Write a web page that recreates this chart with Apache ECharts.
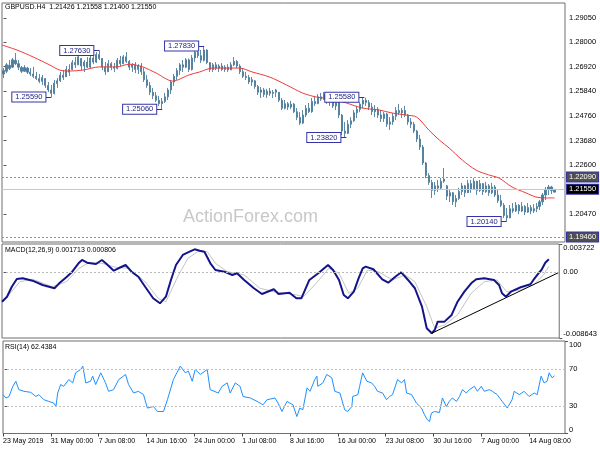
<!DOCTYPE html>
<html><head><meta charset="utf-8">
<script src="https://cdn.jsdelivr.net/npm/echarts@6/dist/echarts.min.js"></script>
<style>html,body{margin:0;padding:0;background:#fff}#c{width:600px;height:450px}</style>
</head><body><div id="c"></div>
<script>
// ---------------- data ----------------
const symbolName = 'GBPUSD.H4';
const lastOHLC = [1.21426, 1.21558, 1.21400, 1.21550];
// candles: [open, close, low, high]
const candles = [
[1.2660,1.2675,1.2642,1.2686],[1.2672,1.2700,1.2664,1.2708],[1.2698,1.2684,1.2677,1.2721],[1.2690,1.2722,1.2686,1.2730],
[1.2720,1.2705,1.2699,1.2752],[1.2705,1.2690,1.2677,1.2721],[1.2688,1.2672,1.2664,1.2695],[1.2672,1.2688,1.2669,1.2699],
[1.2686,1.2668,1.2660,1.2691],[1.2668,1.2660,1.2651,1.2686],[1.2660,1.2650,1.2642,1.2691],[1.2650,1.2640,1.2634,1.2669],
[1.2640,1.2628,1.2620,1.2660],[1.2628,1.2645,1.2612,1.2656],[1.2640,1.2610,1.2599,1.2642],[1.2610,1.2590,1.2581,1.2625],
[1.2590,1.2575,1.2559,1.2612],[1.2575,1.2620,1.2570,1.2634],[1.2618,1.2630,1.2599,1.2642],[1.2630,1.2655,1.2625,1.2669],
[1.2655,1.2645,1.2634,1.2677],[1.2648,1.2680,1.2647,1.2695],[1.2680,1.2668,1.2651,1.2703],[1.2680,1.2710,1.2677,1.2721],
[1.2710,1.2700,1.2686,1.2734],[1.2700,1.2735,1.2699,1.2743],[1.2728,1.2695,1.2677,1.2730],[1.2695,1.2712,1.2669,1.2721],
[1.2712,1.2690,1.2686,1.2734],[1.2690,1.2730,1.2686,1.2743],[1.2730,1.2712,1.2703,1.2747],[1.2712,1.2745,1.2708,1.2756],
[1.2745,1.2728,1.2721,1.2763],[1.2728,1.2690,1.2677,1.2730],[1.2690,1.2670,1.2656,1.2712],[1.2670,1.2705,1.2669,1.2721],
[1.2705,1.2690,1.2677,1.2712],[1.2690,1.2685,1.2669,1.2708],[1.2685,1.2720,1.2680,1.2730],[1.2720,1.2705,1.2695,1.2739],
[1.2705,1.2735,1.2703,1.2743],[1.2735,1.2715,1.2708,1.2756],[1.2715,1.2690,1.2677,1.2721],[1.2690,1.2700,1.2669,1.2708],
[1.2700,1.2680,1.2664,1.2712],[1.2680,1.2695,1.2660,1.2703],[1.2695,1.2670,1.2656,1.2708],[1.2670,1.2635,1.2625,1.2686],
[1.2635,1.2610,1.2599,1.2656],[1.2610,1.2580,1.2568,1.2625],[1.2580,1.2565,1.2550,1.2599],[1.2565,1.2545,1.2537,1.2581],
[1.2545,1.2530,1.2520,1.2564],[1.2530,1.2540,1.2506,1.2555],[1.2540,1.2560,1.2533,1.2577],[1.2560,1.2590,1.2546,1.2599],
[1.2590,1.2625,1.2572,1.2634],[1.2625,1.2650,1.2608,1.2660],[1.2650,1.2675,1.2634,1.2686],[1.2675,1.2700,1.2656,1.2708],
[1.2700,1.2690,1.2669,1.2721],[1.2690,1.2722,1.2686,1.2730],[1.2722,1.2680,1.2669,1.2728],[1.2680,1.2730,1.2675,1.2743],
[1.2730,1.2755,1.2712,1.2765],[1.2755,1.2740,1.2730,1.2778],[1.2740,1.2720,1.2708,1.2765],[1.2720,1.2765,1.2715,1.2783],
[1.2765,1.2710,1.2703,1.2768],[1.2710,1.2680,1.2669,1.2712],[1.2680,1.2700,1.2669,1.2708],[1.2700,1.2685,1.2677,1.2712],
[1.2685,1.2695,1.2669,1.2703],[1.2695,1.2680,1.2673,1.2708],[1.2680,1.2690,1.2669,1.2699],[1.2690,1.2678,1.2669,1.2703],
[1.2678,1.2700,1.2677,1.2712],[1.2700,1.2715,1.2695,1.2734],[1.2715,1.2695,1.2686,1.2721],[1.2695,1.2670,1.2660,1.2703],
[1.2670,1.2650,1.2642,1.2686],[1.2650,1.2645,1.2634,1.2669],[1.2645,1.2625,1.2616,1.2656],[1.2625,1.2635,1.2608,1.2647],
[1.2630,1.2605,1.2595,1.2634],[1.2605,1.2580,1.2568,1.2612],[1.2580,1.2590,1.2555,1.2603],[1.2590,1.2570,1.2559,1.2599],
[1.2570,1.2585,1.2555,1.2595],[1.2585,1.2575,1.2564,1.2599],[1.2575,1.2580,1.2555,1.2590],[1.2580,1.2590,1.2559,1.2595],
[1.2580,1.2545,1.2537,1.2581],[1.2545,1.2510,1.2502,1.2555],[1.2510,1.2530,1.2505,1.2546],[1.2530,1.2515,1.2502,1.2537],
[1.2515,1.2528,1.2506,1.2542],[1.2528,1.2495,1.2489,1.2533],[1.2495,1.2470,1.2458,1.2511],[1.2470,1.2445,1.2437,1.2493],
[1.2445,1.2480,1.2440,1.2502],[1.2480,1.2510,1.2471,1.2524],[1.2510,1.2495,1.2489,1.2533],[1.2495,1.2540,1.2490,1.2555],
[1.2540,1.2530,1.2520,1.2564],[1.2530,1.2560,1.2528,1.2572],[1.2560,1.2550,1.2542,1.2577],[1.2550,1.2570,1.2546,1.2581],
[1.2570,1.2540,1.2529,1.2575],[1.2540,1.2550,1.2520,1.2559],[1.2550,1.2520,1.2511,1.2555],[1.2520,1.2535,1.2502,1.2546],
[1.2535,1.2480,1.2467,1.2540],[1.2480,1.2410,1.2393,1.2485],[1.2410,1.2400,1.2382,1.2450],[1.2400,1.2440,1.2397,1.2458],
[1.2440,1.2455,1.2423,1.2471],[1.2455,1.2490,1.2450,1.2502],[1.2490,1.2505,1.2467,1.2520],[1.2505,1.2528,1.2493,1.2537],
[1.2528,1.2545,1.2511,1.2558],[1.2545,1.2535,1.2520,1.2556],[1.2535,1.2515,1.2502,1.2546],[1.2515,1.2495,1.2480,1.2533],
[1.2495,1.2505,1.2471,1.2524],[1.2505,1.2480,1.2467,1.2515],[1.2480,1.2465,1.2450,1.2502],[1.2465,1.2485,1.2450,1.2493],
[1.2485,1.2440,1.2428,1.2490],[1.2440,1.2450,1.2415,1.2471],[1.2450,1.2475,1.2437,1.2489],[1.2475,1.2500,1.2458,1.2515],
[1.2500,1.2490,1.2480,1.2529],[1.2490,1.2500,1.2467,1.2511],[1.2500,1.2480,1.2471,1.2520],[1.2480,1.2450,1.2437,1.2485],
[1.2450,1.2440,1.2423,1.2467],[1.2440,1.2410,1.2401,1.2450],[1.2410,1.2375,1.2362,1.2415],[1.2375,1.2340,1.2327,1.2393],
[1.2340,1.2270,1.2261,1.2349],[1.2270,1.2215,1.2204,1.2274],[1.2215,1.2185,1.2174,1.2226],[1.2185,1.2150,1.2117,1.2196],
[1.2150,1.2170,1.2130,1.2187],[1.2170,1.2160,1.2143,1.2196],[1.2160,1.2190,1.2152,1.2204],[1.2190,1.2200,1.2183,1.2248],
[1.2170,1.2125,1.2108,1.2174],[1.2125,1.2140,1.2099,1.2152],[1.2140,1.2100,1.2086,1.2143],[1.2100,1.2115,1.2077,1.2130],
[1.2115,1.2145,1.2108,1.2161],[1.2145,1.2170,1.2130,1.2183],[1.2170,1.2140,1.2121,1.2174],[1.2140,1.2180,1.2138,1.2196],
[1.2180,1.2155,1.2139,1.2196],[1.2155,1.2190,1.2152,1.2204],[1.2190,1.2150,1.2130,1.2192],[1.2150,1.2180,1.2143,1.2196],
[1.2180,1.2145,1.2130,1.2182],[1.2145,1.2170,1.2139,1.2187],[1.2170,1.2140,1.2126,1.2178],[1.2140,1.2165,1.2134,1.2183],
[1.2165,1.2130,1.2121,1.2174],[1.2130,1.2105,1.2095,1.2152],[1.2105,1.2085,1.2077,1.2130],[1.2085,1.2040,1.2029,1.2095],
[1.2040,1.2030,1.2014,1.2073],[1.2030,1.2070,1.2028,1.2086],[1.2070,1.2060,1.2051,1.2095],[1.2060,1.2085,1.2055,1.2099],
[1.2085,1.2060,1.2046,1.2090],[1.2060,1.2080,1.2055,1.2099],[1.2080,1.2055,1.2042,1.2086],[1.2055,1.2075,1.2051,1.2095],
[1.2075,1.2060,1.2046,1.2086],[1.2060,1.2070,1.2051,1.2090],[1.2070,1.2080,1.2055,1.2095],[1.2080,1.2100,1.2064,1.2108],
[1.2100,1.2130,1.2086,1.2139],[1.2130,1.2155,1.2108,1.2165],[1.2155,1.2165,1.2130,1.2174],[1.2165,1.2150,1.2134,1.2170],
[1.21426,1.21550,1.21400,1.21558]
];
// moving average (red) [bar index, price]
const maLine = [[-0.5,1.2787],[4.5,1.2765],[10,1.2734],[15.5,1.2699],[18.8,1.2677],[22,1.2673],[26.5,1.2677],[32,1.2691],
[37.8,1.2691],[42,1.2703],[46.5,1.2691],[51,1.2664],[56.5,1.2629],[62,1.2656],[65.5,1.2669],[69.8,1.2686],[78.8,1.2686],
[83,1.2669],[88.8,1.2647],[94.5,1.2612],[99.8,1.2577],[104.5,1.2559],[109.8,1.2550],[114.5,1.2533],[119.8,1.2511],
[125.5,1.2502],[129.8,1.2489],[134.5,1.2480],[138,1.2471],[142,1.2415],[145.5,1.2371],[148.8,1.2336],[153.2,1.2283],
[157.8,1.2239],[162,1.2218],[165.5,1.2204],[169.8,1.2165],[174.5,1.2139],[177.8,1.2121],[181.2,1.2117],[184,1.2117]];
// horizontal levels
const levelPrices = [1.2209, 1.1946];
// swing labels
const swingPrices = [1.2559, 1.2763, 1.2506, 1.2783, 1.2558, 1.2382, 1.2014];
const swingBars = [16, 32, 53, 67, 120.5, 114.5, 168];
// price axis
const priceMin = 1.1924, priceMax = 1.2971;
const priceTicks = [1.2905, 1.2800, 1.2692, 1.2584, 1.2476, 1.2368, 1.2260, 1.2047];
// MACD
const macdParams = '12,26,9';
const macdMin = -0.008643, macdMax = 0.003722;
const macdMain = [[-0.5,-0.00387],[1.2,-0.00321],[2.8,-0.00190],[4.5,-0.00088],[6.5,-0.00079],[9.8,-0.00110],[13.2,-0.00167],
[17.2,-0.00210],[18.8,-0.00145],[21.2,-0.00066],[23.2,0.00008],[25.5,0.00126],[26.5,0.00162],[28.2,0.00126],[31.2,0.00109],
[33.2,0.00162],[34.8,0.00109],[37.2,0.00021],[38.8,0.00053],[41.2,0.00096],[43.2,0.00008],[45.5,-0.00058],[47.8,-0.00190],
[50.5,-0.00342],[52.8,-0.00408],[54.8,-0.00321],[56.5,-0.00101],[58.2,0.00096],[60.5,0.00228],[62.8,0.00271],[64.5,0.00302],
[66.2,0.00284],[67.8,0.00271],[69.8,0.00118],[71.5,0.00030],[74.5,0.00008],[77.2,-0.00035],[78.8,-0.00013],[81.2,-0.00101],
[84.5,-0.00210],[87.2,-0.00285],[91.2,-0.00223],[92.8,-0.00285],[96.5,-0.00268],[98.8,-0.00342],[100.5,-0.00342],
[103.2,-0.00101],[106.2,-0.00013],[109.5,0.00096],[111.2,0.00030],[113.2,-0.00101],[114.8,-0.00298],[116.2,-0.00342],
[118.2,-0.00255],[119.8,-0.00079],[121.2,0.00053],[122.2,0.00074],[124.8,0.00040],[127.8,-0.00092],[129.8,-0.00137],
[132.2,-0.00058],[134.2,0.00000],[136.5,-0.00101],[138.8,-0.00210],[141.2,-0.00452],[142.8,-0.00736],[144.5,-0.00802],
[145.5,-0.00759],[146.5,-0.00649],[148.8,-0.00649],[151.2,-0.00561],[153.2,-0.00387],[155.5,-0.00255],[157.8,-0.00145],
[159.5,-0.00092],[162.2,-0.00079],[165.5,-0.00101],[167.2,-0.00167],[168.2,-0.00276],[169.5,-0.00321],[171.2,-0.00255],
[174.5,-0.00197],[177.8,-0.00158],[178.8,-0.00101],[180.5,-0.00013],[181.5,0.00030],[182.8,0.00126],[184,0.001713]];
const macdSignal = [[-0.5,-0.00404],[5.5,-0.00124],[9.8,-0.00092],[16.5,-0.00190],[21.2,-0.00124],[25.5,0.00053],[28.8,0.00126],
[33.2,0.00118],[37.8,0.00066],[42.2,0.00053],[47.8,-0.00124],[52.2,-0.00342],[54.8,-0.00387],[58.8,-0.00058],[62.2,0.00184],
[65.5,0.00271],[68.8,0.00271],[71.5,0.00118],[75.5,0.00008],[81.2,-0.00035],[86.5,-0.00210],[91.2,-0.00255],[98.8,-0.00298],
[101.2,-0.00321],[105.5,-0.00145],[109.8,0.00053],[113.2,-0.00013],[116.5,-0.00276],[119.5,-0.00210],[122.8,0.00030],
[126.5,0.00008],[131.2,-0.00101],[135.5,-0.00035],[138.8,-0.00124],[142.8,-0.00452],[145.5,-0.00736],[148.8,-0.00693],
[153.2,-0.00561],[157.8,-0.00276],[162.2,-0.00124],[166.5,-0.00101],[169.8,-0.00255],[174.5,-0.00233],[178.8,-0.00167],
[182.2,-0.00035],[184,0.000806]];
const macdTrend = [[144.5,-0.00802],[187.5,0.00000]];
// RSI
const rsiPeriod = 14;
const rsiLevels = [70, 30];
const rsiLine = [[-0.5,42],[0.5,38.4],[1.5,40],[2.8,51],[3.8,56.5],[4.8,47.4],[6.5,45.6],[8.8,44.5],[10.5,40],[11.5,42],
[13.2,36.5],[14.8,34.7],[16.5,32.9],[17.2,29.2],[17.8,43.8],[18.8,52.9],[19.8,51],[21.5,58.3],[22.8,54.7],[23.8,65.6],
[25.5,69.2],[26.2,72.8],[27.2,54.7],[28.8,56.5],[29.5,62],[30.5,52.9],[32.2,65.6],[33.8,54.7],[34.8,45.6],[36.5,47.4],
[38.2,58.3],[40.5,63.8],[41.5,52.9],[43.2,43.8],[44.8,45.6],[46.5,42],[47.8,27.5],[49.8,29.2],[51.2,23.8],[53.2,23.8],
[54.5,36.5],[56.5,58.3],[58.8,72.8],[60.5,65.6],[61.5,67.4],[62.8,56.5],[63.8,69.2],[65.5,63.8],[67.8,69.2],[68.8,47.4],
[71.5,43.8],[72.8,51],[74.5,54.7],[75.5,43.8],[77.2,54.7],[78.8,51],[79.8,40],[82.2,38.4],[84.5,34.7],[86.5,31],
[87.8,36.5],[90.5,38.4],[91.5,32.9],[92.8,23.8],[94.5,34.7],[96.5,31],[97.8,18.3],[98.8,27.5],[99.8,25.6],[101.2,49.3],
[102.2,45.6],[103.8,58.3],[104.5,62],[104.8,51],[106.5,54.7],[107.8,63.8],[109.5,60.2],[110.5,45.6],[112.2,43.8],[113.8,25.6],
[114.8,23.8],[116.2,29.2],[116.5,40.1],[118.2,42],[118.8,51],[119.8,65.6],[121.2,56.5],[122.8,54.7],[123.8,51],[124.8,45.6],
[126.5,43.8],[127.8,36.5],[128.8,40],[129.8,42],[131.5,58.3],[132.8,54.7],[133.8,58.3],[134.5,43.8],[136.2,42],[137.8,32.9],
[139.5,27.5],[140.5,20.2],[141.5,14.7],[142.2,12.9],[142.8,22],[143.8,23.8],[145.5,22.7],[146.5,38.4],[147.8,29.2],[148.8,34.7],
[149.8,38.4],[151.2,34.7],[152.2,40],[153.2,47.4],[154.5,43.8],[155.5,47.4],[157.2,51],[158.2,45.6],[159.5,51],[160.5,45.6],
[162.2,47.4],[163.2,45.6],[164.8,42],[166.5,34.7],[168.2,27.5],[169.8,36.5],[170.5,45.6],[172.2,42],[173.8,45.6],[175.5,40],
[177.2,43.8],[178.2,42],[179.5,62],[180.5,54.7],[181.5,56.5],[182.2,65.6],[183.2,60.2],[184,62.4384]];
// time axis
const timeLabels = ['23 May 2019','31 May 00:00','7 Jun 08:00','14 Jun 16:00','24 Jun 00:00','1 Jul 08:00',
  '8 Jul 16:00','16 Jul 00:00','23 Jul 08:00','30 Jul 16:00','7 Aug 00:00','14 Aug 08:00'];
const timeTickBars = [-0.5,15.5,31.5,47.5,63.5,79.5,95.5,111.5,127.5,143.5,159.5,175.5];
const slotCount = 188;

// ---------------- chart ----------------
const FONT = '"Liberation Sans", Arial, sans-serif';
const slots = Array.from({length: slotCount}, (_, i) => String(i));
const xMin = -0.5, xMax = slotCount - 0.5;
const border = '#6f6f6f';
const barColor = '#4d7d9a';
const lastClose = candles[candles.length - 1][1];
const macdLast = macdMain[macdMain.length - 1][1];
const sigLast = macdSignal[macdSignal.length - 1][1];
const rsiLast = rsiLine[rsiLine.length - 1][1];

const gridBase = {left: 2, right: 35, show: true, borderColor: border, borderWidth: 1, backgroundColor: '#fff'};
const hiddenX = (gi) => ({type: 'value', gridIndex: gi, min: xMin, max: xMax, show: false});
const yLab = {fontFamily: FONT, fontSize: 7.5, color: '#000', margin: 4};
const yTick = {length: 3, lineStyle: {color: '#555'}};
function yAx(gi, min, max, vals, fmt, va) {
  return {
    type: 'value', gridIndex: gi, position: 'right', min: min, max: max, scale: true,
    axisLine: {show: false}, splitLine: {show: false},
    axisTick: Object.assign({show: true, customValues: vals}, yTick),
    axisLabel: Object.assign({show: true, customValues: vals, formatter: fmt, verticalAlign: va || 'middle'}, yLab)
  };
}
function timeFmt(v) {
  for (let k = 0; k < timeTickBars.length; k++) {
    if (Math.abs(timeTickBars[k] - v) < 0.01) return timeLabels[k];
  }
  return '';
}

const levelLabel = (bg, p) => ({show: true, position: 'end', distance: 2, formatter: p.toFixed(5),
  fontFamily: FONT, fontSize: 7.5, color: '#fff', backgroundColor: bg, padding: [1, 2, 0, 2]});

const swingMarks = swingPrices.map((p, k) => ([
  {coord: [swingBars[k] - 2, p], label: {formatter: p.toFixed(5)}},
  {coord: [swingBars[k], p]}
]));
const levelMarks = [
  {yAxis: levelPrices[0], lineStyle: {type: [2, 2], color: '#8a9696', width: 1}, label: levelLabel('#4f4f4f', levelPrices[0])},
  {yAxis: levelPrices[1], lineStyle: {type: [2, 2], color: '#8a9696', width: 1}, label: levelLabel('#4f4f4f', levelPrices[1])},
  {yAxis: lastClose, lineStyle: {type: 'solid', color: '#c8c8c8', width: 1}, label: levelLabel('#000', lastClose)}
];

const chart = echarts.init(document.getElementById('c'), null, {renderer: 'canvas'});
chart.setOption({
  animation: false,
  backgroundColor: '#fff',
  textStyle: {fontFamily: FONT},
  grid: [
    Object.assign({top: 3, height: 239}, gridBase),
    Object.assign({top: 244, height: 94}, gridBase),
    Object.assign({top: 341, height: 92.5}, gridBase)
  ],
  xAxis: [
    {type: 'category', gridIndex: 0, data: slots, boundaryGap: true, show: false},
    hiddenX(0),
    hiddenX(1),
    {type: 'value', gridIndex: 2, min: xMin, max: xMax, position: 'bottom',
     axisLine: {show: false}, splitLine: {show: false},
     axisTick: {show: true, customValues: timeTickBars, length: 3, lineStyle: {color: '#444'}},
     axisLabel: {show: true, customValues: timeTickBars, formatter: timeFmt, showMinLabel: true, showMaxLabel: true,
       hideOverlap: false, align: 'left', fontFamily: FONT, fontSize: 7, color: '#000', margin: 4}}
  ],
  yAxis: [
    yAx(0, priceMin, priceMax, priceTicks, (v) => v.toFixed(5)),
    yAx(1, macdMin, macdMax, [0], () => '0.00'),
    yAx(1, macdMin, macdMax, [macdMax], (v) => v.toFixed(6), 'top'),
    yAx(1, macdMin, macdMax, [macdMin], (v) => v.toFixed(6), 'bottom'),
    yAx(2, 0, 100, rsiLevels, (v) => String(v)),
    yAx(2, 0, 100, [100], (v) => String(v), 'top'),
    yAx(2, 0, 100, [0], (v) => String(v), 'bottom')
  ],
  graphic: [
    {type: 'text', left: 183, top: 208, z: 0, silent: true,
     style: {text: 'ActionForex.com', fontFamily: FONT, fontSize: 18, fill: '#c8c8c8'}},
    {type: 'text', left: 5, top: 4, z: 10, silent: true,
     style: {text: symbolName + '  ' + lastOHLC.map(v => v.toFixed(5)).join(' '), fontFamily: FONT, fontSize: 7, fill: '#000'}},
    {type: 'text', left: 5, top: 247, z: 10, silent: true,
     style: {text: 'MACD(' + macdParams + ') ' + macdLast.toFixed(6) + ' ' + sigLast.toFixed(6), fontFamily: FONT, fontSize: 7, fill: '#000'}},
    {type: 'text', left: 5, top: 344, z: 10, silent: true,
     style: {text: 'RSI(' + rsiPeriod + ') ' + rsiLast.toFixed(4), fontFamily: FONT, fontSize: 7, fill: '#000'}}
  ],
  series: [
    {type: 'candlestick', xAxisIndex: 0, yAxisIndex: 0, data: candles, barWidth: 1.6, silent: true, z: 2,
     itemStyle: {color: barColor, color0: barColor, borderColor: barColor, borderColor0: barColor, borderWidth: 0.9}},
    {type: 'line', xAxisIndex: 1, yAxisIndex: 0, data: maLine, showSymbol: false, smooth: 0.3, silent: true,
     lineStyle: {color: '#f03a3a', width: 1}, z: 3,
     markLine: {silent: true, symbol: ['none', 'none'], animation: false, precision: 5,
       lineStyle: {color: '#2f2fa0', width: 1, type: 'solid'},
       label: {show: true, position: 'start', distance: 0, fontFamily: FONT, fontSize: 7.5, color: '#1c1c80',
         backgroundColor: '#fff', borderColor: '#3434a8', borderWidth: 1, padding: [1, 3, 0, 3]},
       data: levelMarks.concat(swingMarks)}},
    {type: 'line', xAxisIndex: 2, yAxisIndex: 1, data: macdSignal, showSymbol: false, silent: true,
     lineStyle: {color: '#c4c4c4', width: 1}, z: 2,
     markLine: {silent: true, symbol: ['none', 'none'], animation: false, label: {show: false},
       data: [{yAxis: 0, lineStyle: {type: [2, 2], color: '#b8b8b8', width: 1}}]}},
    {type: 'line', xAxisIndex: 2, yAxisIndex: 1, data: macdMain, showSymbol: false, silent: true,
     lineStyle: {color: '#14148a', width: 2}, z: 3},
    {type: 'line', xAxisIndex: 2, yAxisIndex: 1, data: macdTrend, showSymbol: false, silent: true,
     lineStyle: {color: '#000', width: 1}, z: 4},
    {type: 'line', xAxisIndex: 3, yAxisIndex: 4, data: rsiLine, showSymbol: false, silent: true,
     lineStyle: {color: '#1e90ff', width: 1}, z: 3,
     markLine: {silent: true, symbol: ['none', 'none'], animation: false, label: {show: false},
       data: rsiLevels.map(v => ({yAxis: v, lineStyle: {type: [2, 2], color: '#c0c0c0', width: 1}}))}}
  ]
});
</script>
</body></html>
